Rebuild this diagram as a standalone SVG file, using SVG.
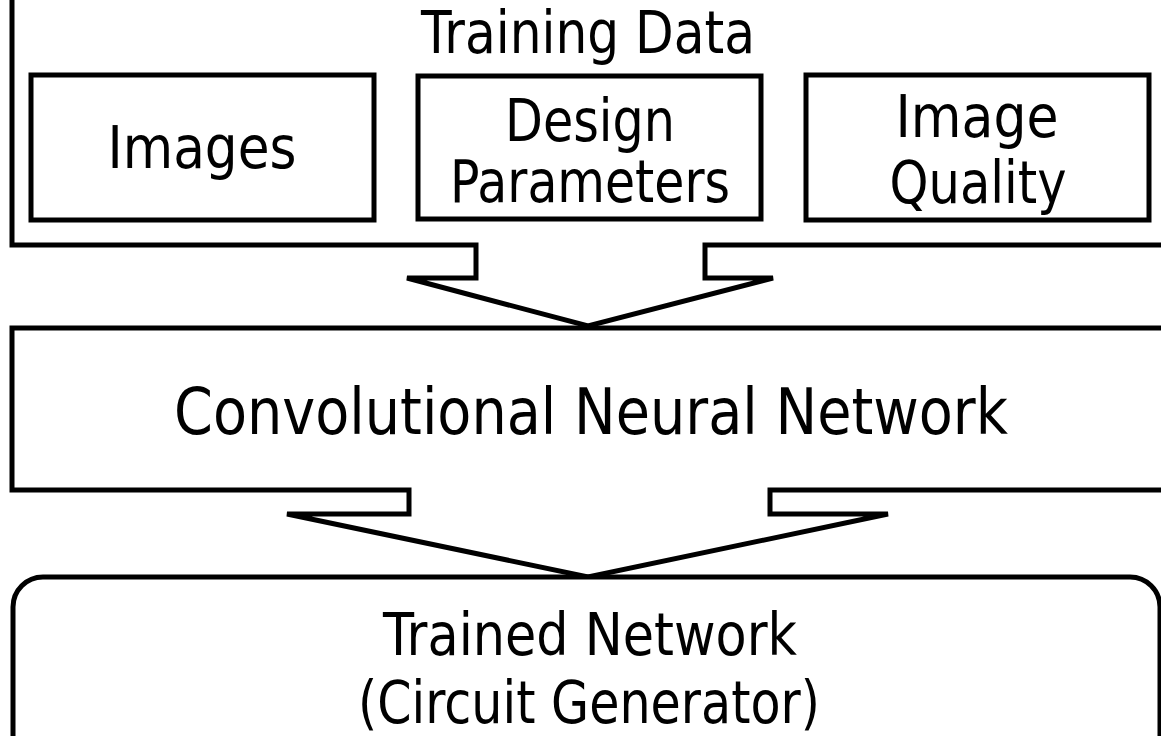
<svg xmlns="http://www.w3.org/2000/svg" width="1161" height="736" viewBox="0 0 1161 736">
<style>
.shape{fill:none;stroke:#000;stroke-width:5;stroke-linejoin:miter}
.box{fill:#fff;stroke:#000;stroke-width:5}
.t{font-family:"DejaVu Sans","Liberation Sans",sans-serif;font-size:58px;fill:#000;text-anchor:middle}
.big{font-size:64px}
</style>
<rect width="1161" height="736" fill="#fff"/>
<g id="connectors">
<path class="shape" d="M12,-10 L12,245 L476,245 L476,278 L407,278 L588,326 L773,278 L705,278 L705,245 L1175,245"/>
<path class="shape" d="M1175,328 L12,328 L12,490 L409,490 L409,514 L287,514 L588,577 L888,514 L770,514 L770,490 L1175,490"/>
</g>
<g id="training-data">
<text class="t" x="588" y="53" textLength="334" lengthAdjust="spacingAndGlyphs">Training Data</text>
</g>
<g id="images">
<rect class="box" x="31" y="75" width="343" height="145"/>
<text class="t" x="202" y="168" textLength="189" lengthAdjust="spacingAndGlyphs">Images</text>
</g>
<g id="design-parameters">
<rect class="box" x="418" y="76" width="343" height="143"/>
<text class="t" x="590" y="141" textLength="170" lengthAdjust="spacingAndGlyphs">Design</text>
<text class="t" x="590" y="202" textLength="280" lengthAdjust="spacingAndGlyphs">Parameters</text>
</g>
<g id="image-quality">
<rect class="box" x="806" y="75" width="343" height="145"/>
<text class="t" x="977" y="137" textLength="163" lengthAdjust="spacingAndGlyphs">Image</text>
<text class="t" x="978" y="203" textLength="177" lengthAdjust="spacingAndGlyphs">Quality</text>
</g>
<g id="cnn">
<text class="t big" x="591" y="434" textLength="834" lengthAdjust="spacingAndGlyphs">Convolutional Neural Network</text>
</g>
<g id="trained-network">
<rect class="box" x="13" y="577" width="1147" height="220" rx="30" ry="30"/>
<text class="t" x="590" y="655" textLength="414" lengthAdjust="spacingAndGlyphs">Trained Network</text>
<text class="t" x="589" y="723" textLength="462" lengthAdjust="spacingAndGlyphs">(Circuit Generator)</text>
</g>
</svg>
